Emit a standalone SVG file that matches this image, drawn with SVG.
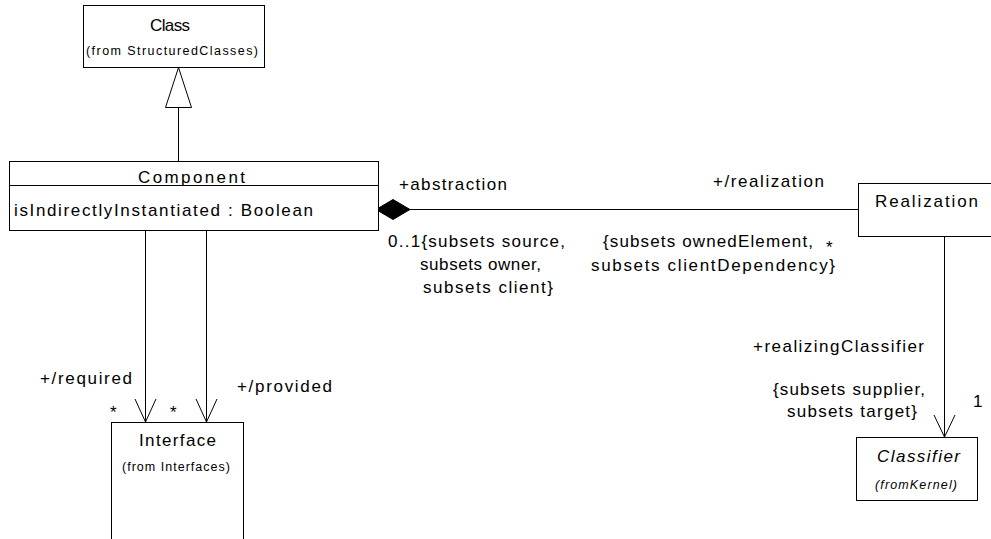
<svg xmlns="http://www.w3.org/2000/svg" width="991" height="539" viewBox="0 0 991 539">
<style>
  .box { fill: #ffffff; stroke: #000000; stroke-width: 1; }
  .ln { fill: none; stroke: #000000; stroke-width: 1; }
  .t { font-family: "Liberation Sans", Arial, sans-serif; font-size: 17px; fill: #000000; }
  .s { font-family: "Liberation Sans", Arial, sans-serif; font-size: 12.5px; fill: #000000; }
  .i { font-style: italic; }
</style>
<rect width="991" height="539" fill="#ffffff"/>

<g id="connectors">
  <!-- generalization Component -> Class -->
  <line class="ln" x1="178.5" y1="107" x2="178.5" y2="161"/>
  <polygon class="box" points="178.5,67.5 165.5,107.5 191.5,107.5"/>
  <!-- composition Component <>- Realization -->
  <line class="ln" x1="410" y1="209.5" x2="858" y2="209.5"/>
  <polygon points="376,209.5 393,199.5 410,209.5 393,219.5" fill="#000000" stroke="#000000" stroke-width="1"/>
  <!-- required -->
  <line class="ln" x1="145.5" y1="230" x2="145.5" y2="422"/>
  <polyline class="ln" points="135,399 145.5,422 156,399"/>
  <!-- provided -->
  <line class="ln" x1="206.5" y1="230" x2="206.5" y2="422"/>
  <polyline class="ln" points="196,399 206.5,422 217,399"/>
  <!-- realizingClassifier -->
  <line class="ln" x1="944.5" y1="236" x2="944.5" y2="437"/>
  <polyline class="ln" points="934,415 944.5,437 955,415"/>

  <text class="t" x="399" y="190" textLength="108" lengthAdjust="spacing">+abstraction</text>
  <text class="t" x="388" y="247" textLength="177" lengthAdjust="spacing">0..1{subsets source,</text>
  <text class="t" x="420" y="270" textLength="121" lengthAdjust="spacing">subsets owner,</text>
  <text class="t" x="423" y="293" textLength="130" lengthAdjust="spacing">subsets client}</text>
  <text class="t" x="713" y="187" textLength="111" lengthAdjust="spacing">+/realization</text>
  <text class="t" x="603" y="247" textLength="210" lengthAdjust="spacing">{subsets ownedElement,</text>
  <text class="t" x="826" y="253">*</text>
  <text class="t" x="591" y="271" textLength="244" lengthAdjust="spacing">subsets clientDependency}</text>
  <text class="t" x="40" y="384" textLength="92" lengthAdjust="spacing">+/required</text>
  <text class="t" x="110" y="418">*</text>
  <text class="t" x="237" y="392" textLength="95" lengthAdjust="spacing">+/provided</text>
  <text class="t" x="170" y="418">*</text>
  <text class="t" x="753" y="352" textLength="171" lengthAdjust="spacing">+realizingClassifier</text>
  <text class="t" x="773" y="395" textLength="152" lengthAdjust="spacing">{subsets supplier,</text>
  <text class="t" x="787" y="417" textLength="130" lengthAdjust="spacing">subsets target}</text>
  <text class="t" x="973" y="407">1</text>
</g>

<g id="Class">
  <rect class="box" x="83.5" y="5.5" width="181" height="62"/>
  <text class="t" x="150" y="31" textLength="40" lengthAdjust="spacing">Class</text>
  <text class="s" x="86" y="55" textLength="172" lengthAdjust="spacing">(from StructuredClasses)</text>
</g>

<g id="Component">
  <rect class="box" x="9.5" y="161.5" width="369" height="69"/>
  <line class="ln" x1="9.5" y1="185.5" x2="378.5" y2="185.5"/>
  <text class="t" x="138" y="183" textLength="107" lengthAdjust="spacing">Component</text>
  <text class="t" x="14" y="216" textLength="299" lengthAdjust="spacing">isIndirectlyInstantiated : Boolean</text>
</g>

<g id="Realization">
  <rect class="box" x="858.5" y="183.5" width="150" height="53"/>
  <text class="t" x="875" y="207" textLength="103" lengthAdjust="spacing">Realization</text>
</g>

<g id="Interface">
  <rect class="box" x="111.5" y="422.5" width="132" height="130"/>
  <text class="t" x="139" y="446" textLength="77" lengthAdjust="spacing">Interface</text>
  <text class="s" x="122" y="471" textLength="108" lengthAdjust="spacing">(from Interfaces)</text>
</g>

<g id="Classifier">
  <rect class="box" x="856.5" y="437.5" width="121" height="63"/>
  <text class="t i" x="877" y="462" textLength="83" lengthAdjust="spacing">Classifier</text>
  <text class="s i" x="875" y="489" textLength="82" lengthAdjust="spacing">(fromKernel)</text>
</g>
</svg>
